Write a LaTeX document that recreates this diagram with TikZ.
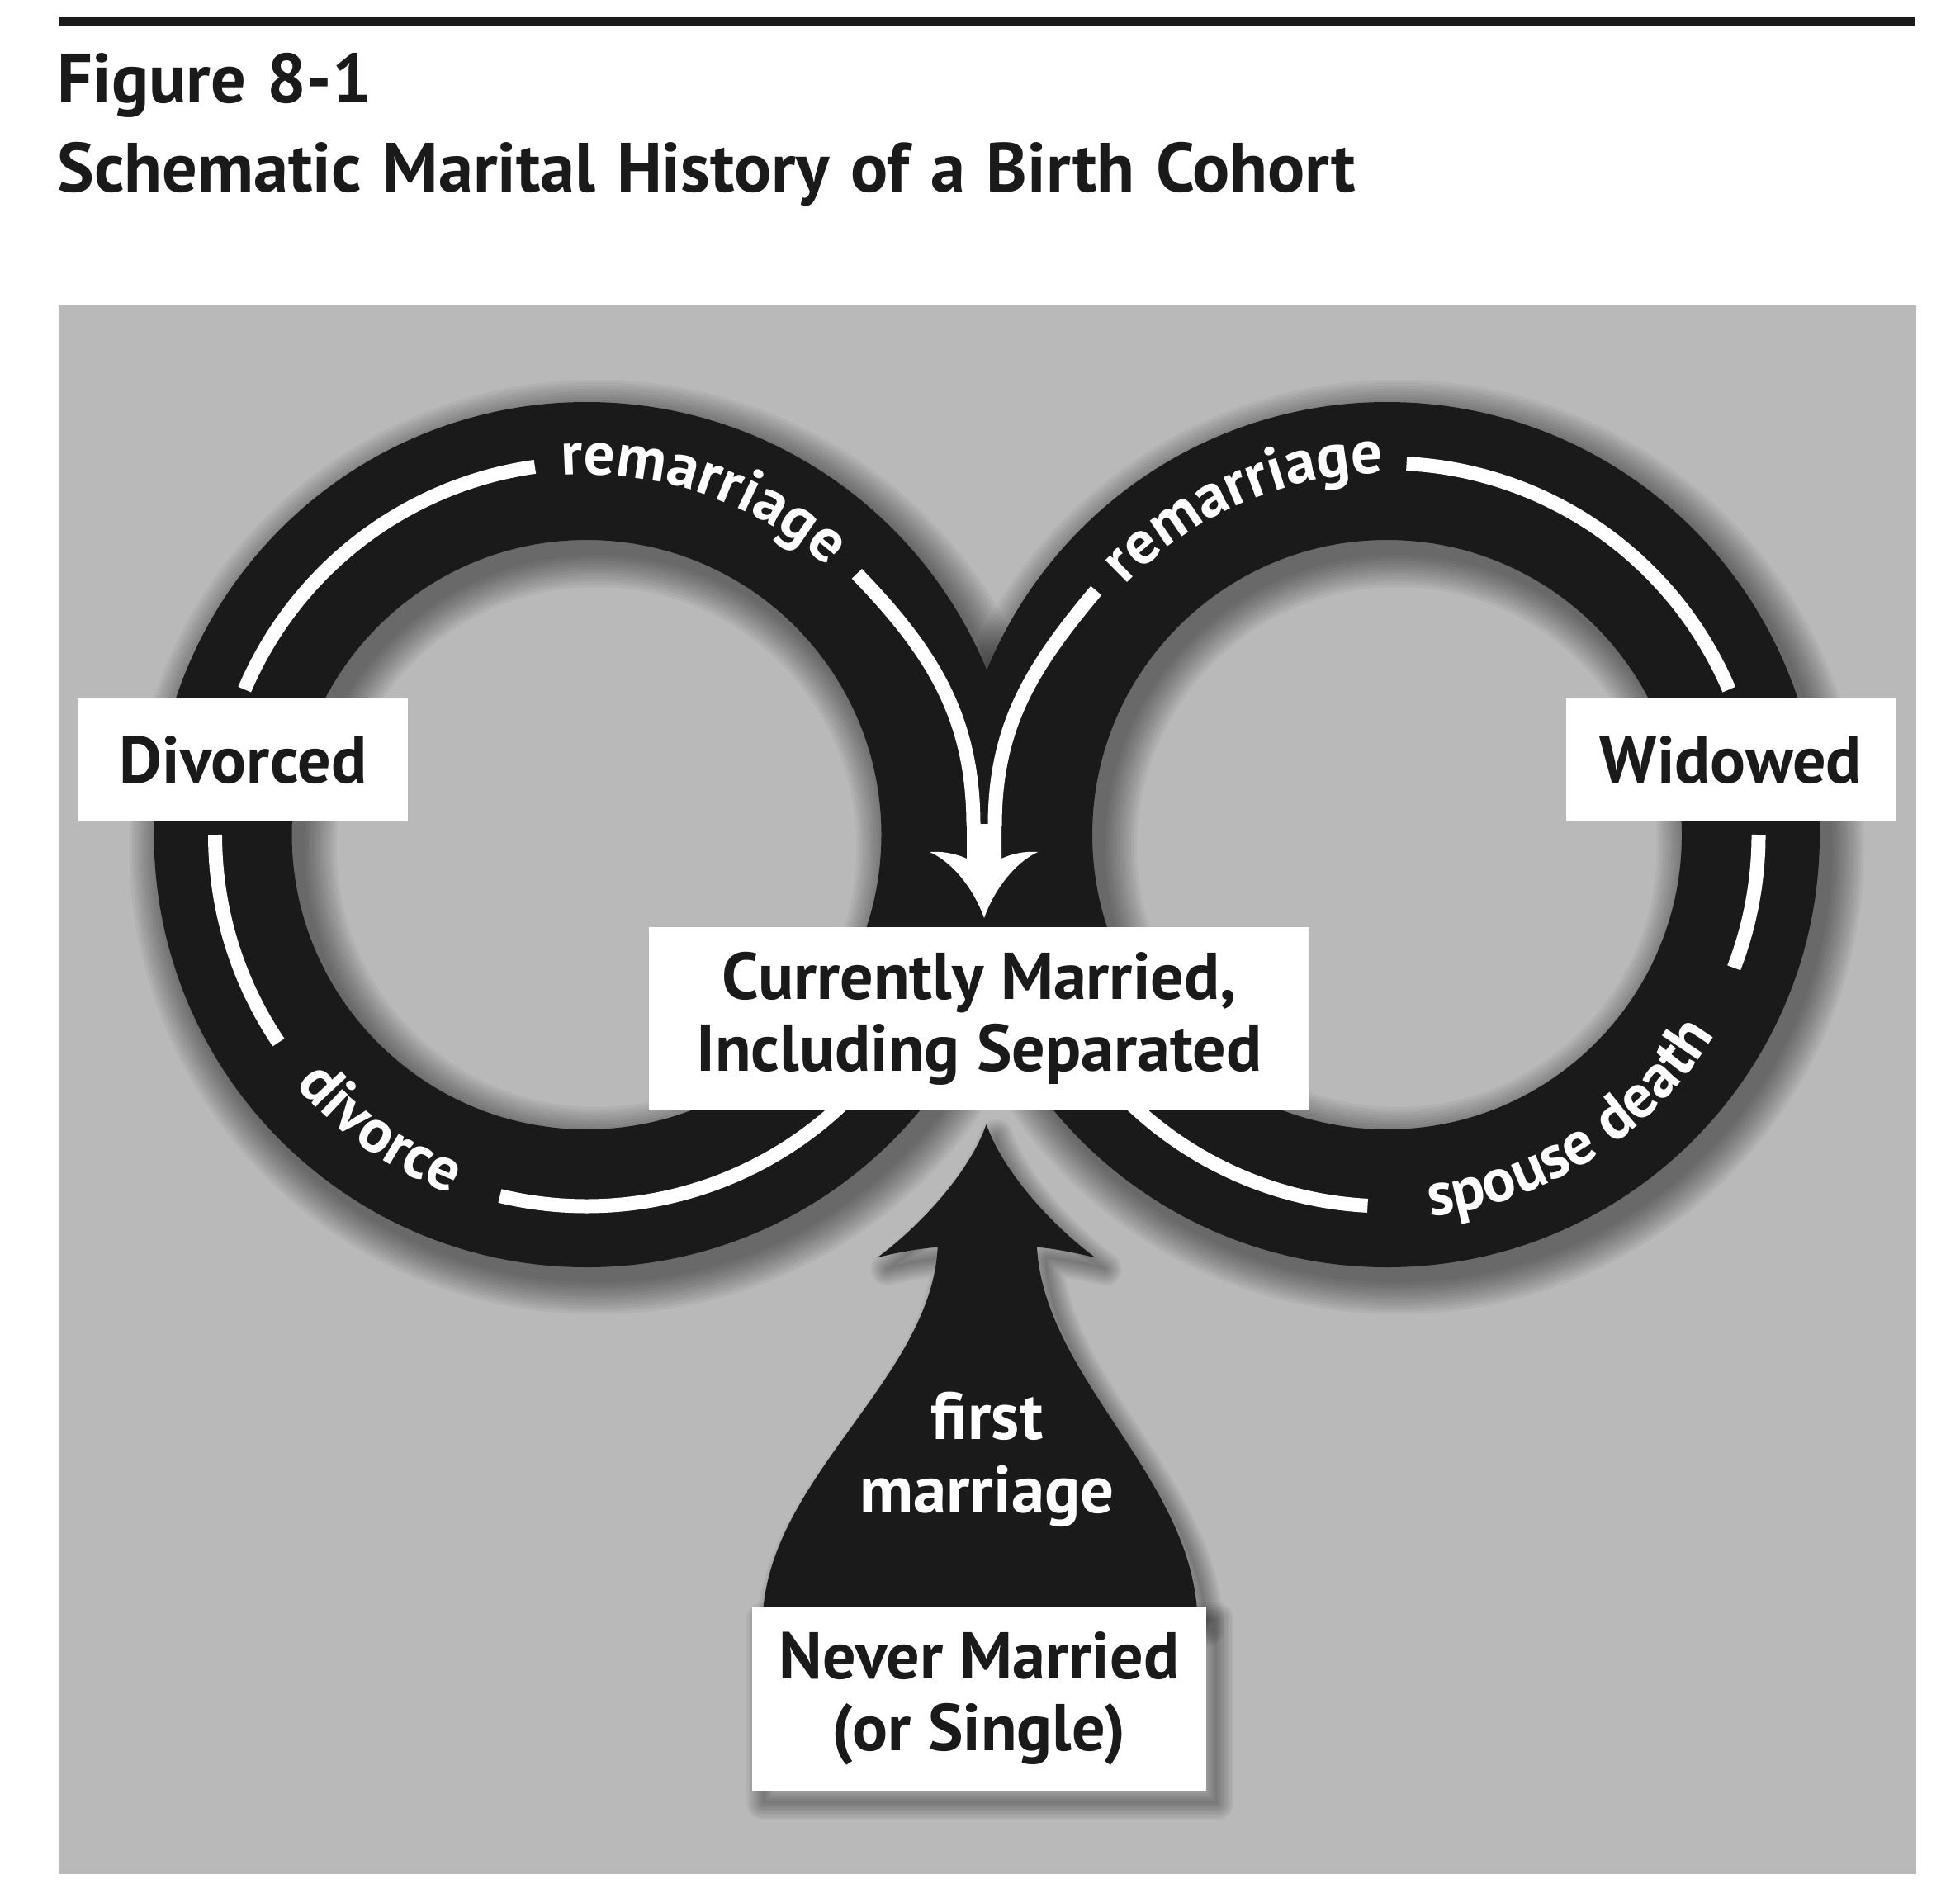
\documentclass[tikz,border=0pt]{standalone}
\usepackage{fontspec}
\setmainfont{PT Sans}
\newfontfamily\headfamily[WordSpace=1.2]{PT Sans}
\usetikzlibrary{calc,decorations.text}

\definecolor{inkblack}{RGB}{26,26,26}
\definecolor{panelgray}{RGB}{185,185,185}
\newcommand\ringwidth{1.67cm}
\newcommand\ringrad{4.405}
\newcommand\trackrad{4.5}
\newcommand\boxfont{\fontsize{22.8}{24.7}\selectfont\bfseries}
\newcommand\arclabelfont{\fontsize{21.3}{24}\selectfont\bfseries}
\newcommand\titlefont{\headfamily\fontsize{24}{27}\selectfont\bfseries}
\tikzset{ring/.style={draw=inkblack, line width=\ringwidth}}
\tikzset{softshadow/.style={black, opacity=0.045, line join=round}}
\tikzset{track/.style={draw=white, line width=0.17cm}}
\tikzset{statebox/.style={rectangle, fill=white, text=inkblack, font=\boxfont, align=center, inner sep=0pt}}
\tikzset{arclabel/.style={decorate, decoration={text along path, text align=center, text color=white, text={|\arclabelfont|#1}}}}
\def\firstpath{(11.947,-13.617) .. controls (12.15,-14.2) and (12.75,-14.85) .. (13.267,-15.233) .. controls (13.0,-15.17) and (12.75,-15.12) .. (12.56,-15.107) .. controls (12.65,-16.7) and (14.45,-17.9) .. (14.504,-19.6) -- (9.237,-19.6) .. controls (9.30,-17.9) and (11.28,-16.7) .. (11.357,-15.107) .. controls (11.15,-15.12) and (10.86,-15.17) .. (10.626,-15.233) .. controls (11.144,-14.85) and (11.744,-14.2) .. (11.947,-13.617) -- cycle}

\begin{document}
\begin{tikzpicture}
\useasboundingbox[fill=white] (0,0) rectangle (23.74,-22.98);
% heading
\fill[inkblack] (0.71,-0.20) rectangle (23.20,-0.32);
\node[anchor=base west, inner sep=0pt, font=\titlefont, text=inkblack] (fignum) at (0.69,-1.25) {Figure 8-1};
\node[anchor=base west, inner sep=0pt, font=\titlefont, text=inkblack] (figtitle) at (0.69,-2.32) {Schematic Marital History of a Birth Cohort};
% panel
\fill[panelgray] (0.71,-3.70) rectangle (23.207,-22.70);

\coordinate (lc) at (7.105,-10.11);
\coordinate (rc) at (16.80,-10.11);

% shadows
\foreach \k in {1,...,12} {
  \draw[softshadow, line width=\ringwidth+\k*0.07cm] ($(lc)+(0.12,-0.15)$) circle (\ringrad);
  \draw[softshadow, line width=\ringwidth+\k*0.07cm] ($(rc)+(0.12,-0.15)$) circle (\ringrad);
}
\fill[softshadow, shift={(0.12,-0.14)}] \firstpath;
\foreach \k in {1,...,8}
  \draw[softshadow, line width=\k*0.05cm, shift={(0.12,-0.14)}] \firstpath;
\fill[softshadow] (9.24,-19.61) rectangle (14.74,-21.84);
\foreach \k in {1,...,8}
  \draw[softshadow, line width=\k*0.05cm] (9.24,-19.61) rectangle (14.74,-21.84);

% rings and first marriage arrow
\draw[ring] (lc) circle (\ringrad);
\draw[ring] (rc) circle (\ringrad);
\fill[inkblack] \firstpath;

% white tracks, left ring
\draw[track] ($(lc)+(157:\trackrad)$) arc[start angle=157, end angle=98, radius=\trackrad];
\coordinate (lstart) at ($(lc)+(44:4.55)$);
\coordinate (lend) at (11.79,-10.0);
\draw[track] (lstart) to[out=-46, in=90] (lend);
\draw[track] ($(lc)+(180:\trackrad)$) arc[start angle=180, end angle=214, radius=\trackrad];
\draw[track] ($(lc)+(256.5:\trackrad)$) arc[start angle=256.5, end angle=316, radius=\trackrad];
% white tracks, right ring
\draw[track] ($(rc)+(23:\trackrad)$) arc[start angle=23, end angle=87, radius=\trackrad];
\coordinate (rstart) at ($(rc)+(140:4.6)$);
\coordinate (rend) at (12.05,-10.0);
\draw[track] (rstart) to[out=-130, in=90] (rend);
\draw[track] ($(rc)+(0:\trackrad)$) arc[start angle=0, end angle=-21, radius=\trackrad];
\draw[track] ($(rc)+(-93:\trackrad)$) arc[start angle=-93, end angle=-136, radius=\trackrad];
% merged arrowhead
\fill[white] (11.71,-9.98) -- (11.71,-10.40) .. controls (11.55,-10.33) and (11.40,-10.31) .. (11.26,-10.32) .. controls (11.55,-10.45) and (11.80,-10.78) .. (11.92,-11.12) .. controls (12.04,-10.78) and (12.29,-10.45) .. (12.57,-10.32) .. controls (12.43,-10.31) and (12.28,-10.33) .. (12.13,-10.40) -- (12.13,-9.98) -- cycle;

% labels on the rings
\path[arclabel=remarriage] ($(lc)+(105:4.36)$) arc[start angle=105, end angle=37, radius=4.36];
\path[arclabel=remarriage] ($(rc)+(147:4.38)$) arc[start angle=147, end angle=80, radius=4.38];
\path[arclabel=divorce] ($(lc)+(200:4.65)$) arc[start angle=200, end angle=270, radius=4.65];
\path[arclabel={spouse death}] ($(rc)+(-100:4.65)$) arc[start angle=-100, end angle=-15, radius=4.65];

% states
\node[statebox, minimum width=3.99cm, minimum height=1.49cm] (divorced) at (2.945,-9.205) {Divorced};
\node[statebox, minimum width=3.99cm, minimum height=1.49cm] (widowed) at (20.965,-9.205) {Widowed};
\node[statebox, minimum width=8.0cm, minimum height=2.22cm] (married) at (11.86,-12.34) {Currently Married,\\Including Separated};
\node[statebox, minimum width=5.5cm, minimum height=2.23cm] (never) at (11.86,-20.575) {Never Married\\(or Single)};
\node[font={\fontsize{23}{25.3}\selectfont\bfseries}, text=white, align=center, inner sep=0pt] (firstlbl) at (11.955,-17.675) {first\\marriage};
\end{tikzpicture}
\end{document}
